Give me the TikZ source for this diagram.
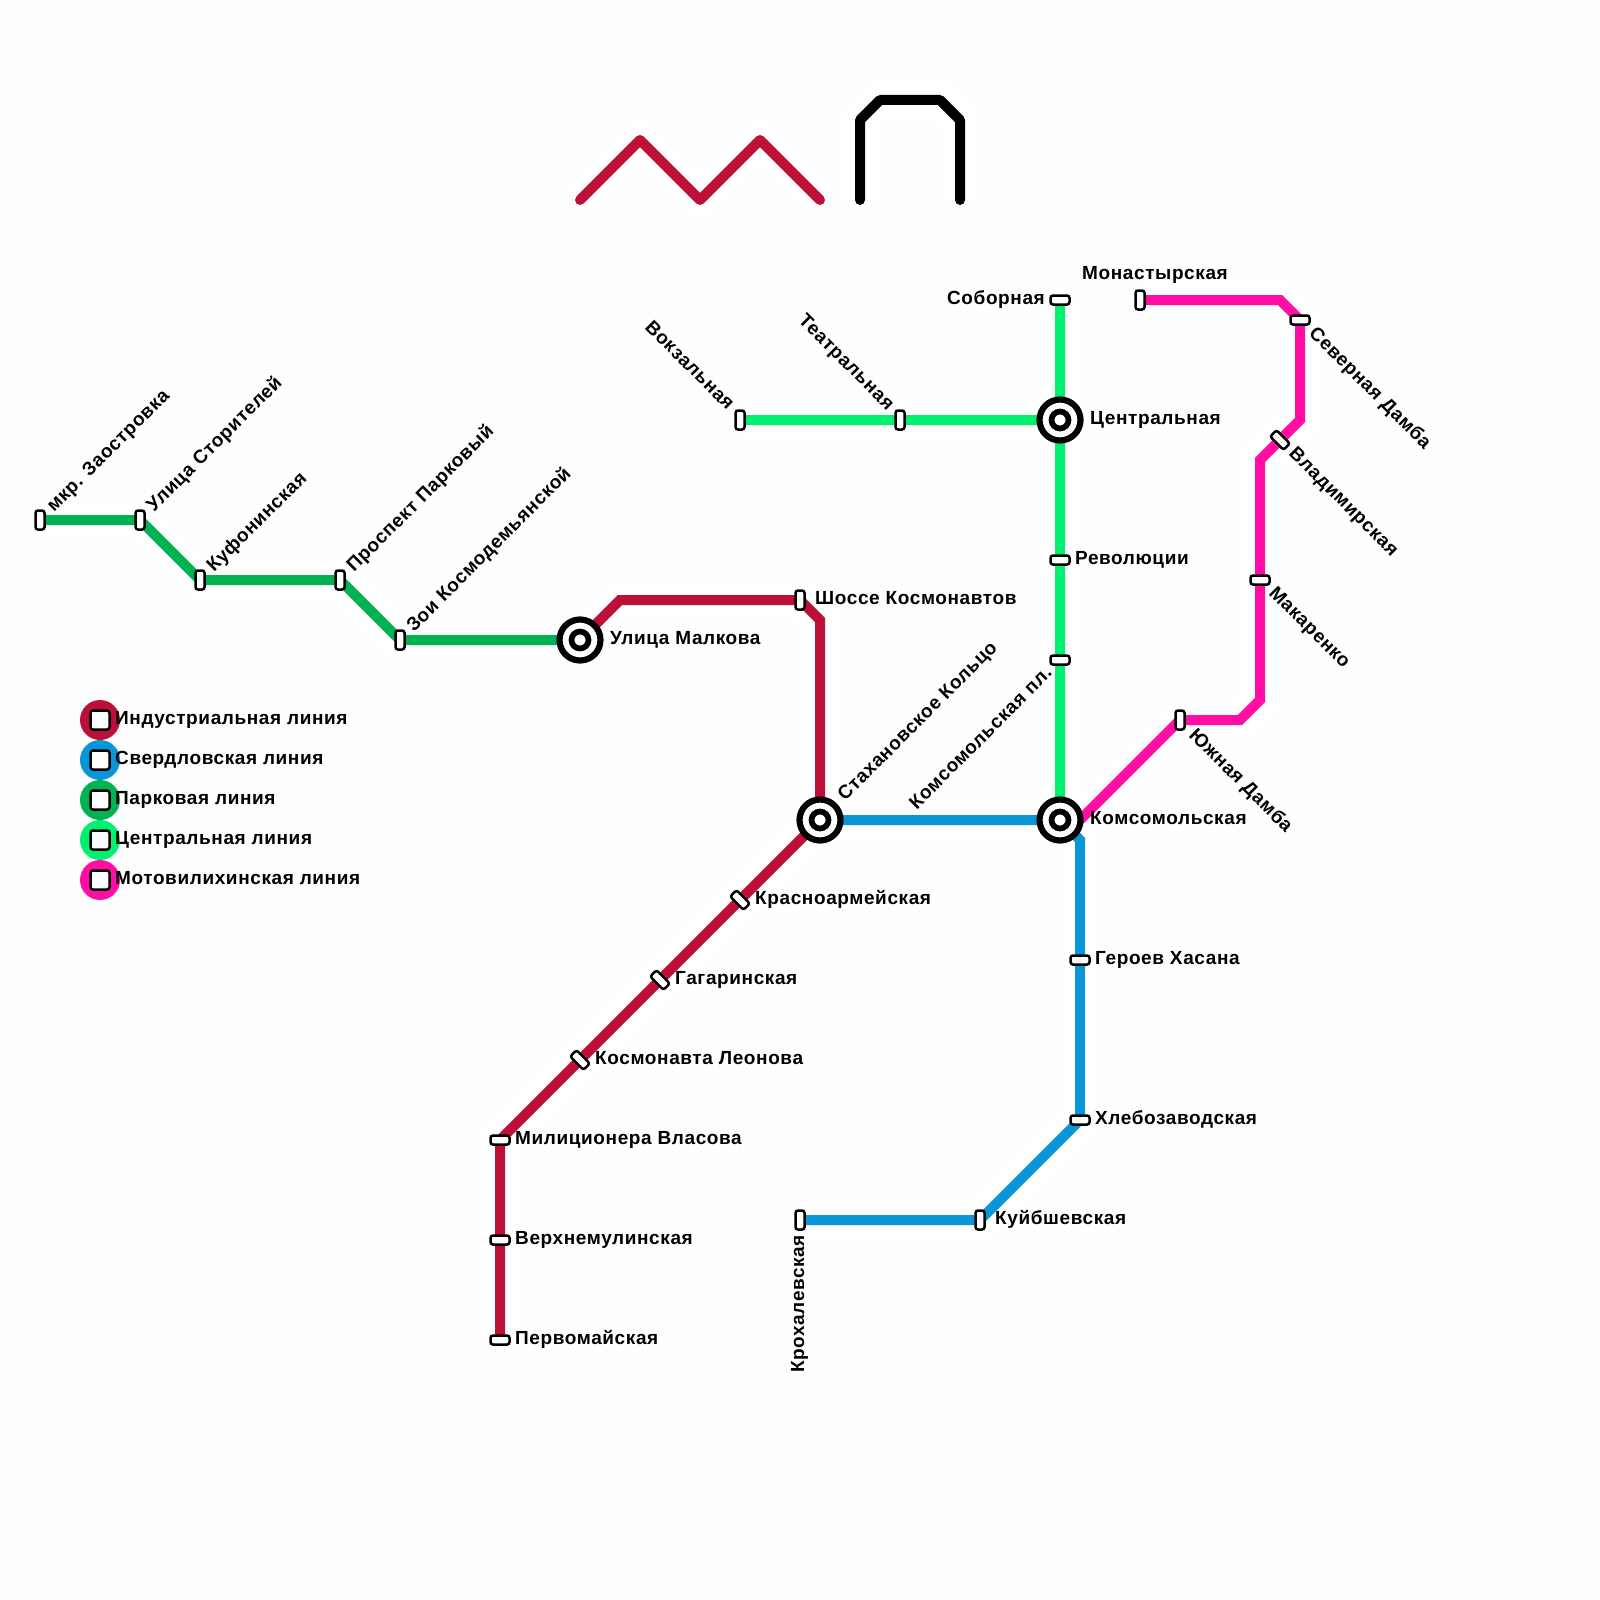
\documentclass[tikz,border=0pt]{standalone}
\usepackage{fontspec}
\setmainfont{Liberation Sans}[LetterSpace=3.2]
\usetikzlibrary{backgrounds}
\definecolor{bgc}{HTML}{FCFFFD}
\definecolor{cred}{HTML}{BD1038}
\definecolor{cblue}{HTML}{0896D7}
\definecolor{cpark}{HTML}{00B251}
\definecolor{ccent}{HTML}{00F170}
\definecolor{cmag}{HTML}{FF0DA5}
\pgfdeclarelayer{halo}
\pgfdeclarelayer{lines}
\pgfsetlayers{halo,lines,main}
\tikzset{
  stH/.style={draw=black,fill=white,line width=2.5pt,rounded corners=2.5pt,inner sep=0pt,minimum width=19pt,minimum height=9pt},
  stV/.style={stH,minimum width=9pt,minimum height=19pt},
  stD/.style={stH,rotate=-45},
  hub/.style={circle,draw=black,fill=white,line width=6.2pt,inner sep=0pt,minimum size=41pt},
  hubin/.style={circle,draw=black,fill=white,line width=5.7pt,inner sep=0pt,minimum size=17pt},
  txt/.style={inner sep=0pt,font=\fontsize{19}{21}\selectfont\bfseries,anchor=base west,text=black},
  txtR/.style={txt,anchor=base east},
  metro/.style={line width=10pt},
  deco/.style={metro,line cap=round,line join=round},
  halopath/.style={line width=36pt,draw=white,line join=round},
  legdot/.style={circle,inner sep=0pt,minimum size=40pt},
  legbox/.style={draw=black,fill=white,line width=2.5pt,rounded corners=2.5pt,inner sep=0pt,minimum size=19pt},
}
\begin{document}
\begin{tikzpicture}[x=1pt,y=-1pt]
\useasboundingbox (0,0) rectangle (1600,1600);
% stations
\node[stV] (zaos) at (40,520) {};
\node[stV] (stor) at (140,520) {};
\node[stV] (kufo) at (200,580) {};
\node[stV] (park) at (340,580) {};
\node[stV] (zoya) at (400,640) {};
\node[hub] (malk) at (580,640) {}; \node[hubin] (malki) at (580,640) {};
\node[stV] (shos) at (800,600) {};
\node[hub] (stah) at (820,820) {}; \node[hubin] (stahi) at (820,820) {};
\node[hub] (koms) at (1060,820) {}; \node[hubin] (komsi) at (1060,820) {};
\node[hub] (cent) at (1060,420) {}; \node[hubin] (centi) at (1060,420) {};
\node[stD] (kras) at (740,900) {};
\node[stD] (gaga) at (660,980) {};
\node[stD] (leon) at (580,1060) {};
\node[stH] (vlas) at (500,1140) {};
\node[stH] (verh) at (500,1240) {};
\node[stH] (perv) at (500,1340) {};
\node[stH] (gero) at (1080,960) {};
\node[stH] (hleb) at (1080,1120) {};
\node[stV] (kuyb) at (980,1220) {};
\node[stV] (kroh) at (800,1220) {};
\node[stV] (vokz) at (740,420) {};
\node[stV] (teat) at (900,420) {};
\node[stH] (sobo) at (1060,300) {};
\node[stH] (revo) at (1060,560) {};
\node[stH] (kpl)  at (1060,660) {};
\node[stV] (mona) at (1140,300) {};
\node[stH] (sevd) at (1300,320) {};
\node[stD] (vlad) at (1280,440) {};
\node[stH] (maka) at (1260,580) {};
\node[stV] (yuzh) at (1180,720) {};
% way points
\coordinate (r1) at (620,600);
\coordinate (r2) at (820,620);
\coordinate (b1) at (1080,840);
\coordinate (m1) at (1280,300);
\coordinate (m2) at (1300,420);
\coordinate (m3) at (1260,460);
\coordinate (m4) at (1260,700);
\coordinate (m5) at (1240,720);
\coordinate (m6) at (1080,820);
\coordinate (z1) at (580,200);
\coordinate (z2) at (640,140);
\coordinate (z3) at (700,200);
\coordinate (z4) at (760,140);
\coordinate (z5) at (820,200);
\coordinate (a1) at (860,200);
\coordinate (a2) at (860,120);
\coordinate (a3) at (880,100);
\coordinate (a4) at (940,100);
\coordinate (a5) at (960,120);
\coordinate (a6) at (960,200);
% background and halo
\begin{pgfonlayer}{halo}
\fill[bgc] (0,0) rectangle (1600,1600);
\draw[halopath] (zaos.center) -- (stor.center) -- (kufo.center) -- (park.center) -- (zoya.center) -- (malk.center);
\draw[halopath] (malk.center) -- (r1) -- (shos.center) -- (r2) -- (stah.center) -- (kras.center) -- (gaga.center) -- (leon.center) -- (vlas.center) -- (verh.center) -- (perv.center);
\draw[halopath] (stah.center) -- (koms.center) -- (b1) -- (gero.center) -- (hleb.center) -- (kuyb.center) -- (kroh.center);
\draw[halopath] (vokz.center) -- (teat.center) -- (cent.center);
\draw[halopath] (sobo.center) -- (cent.center) -- (revo.center) -- (kpl.center) -- (koms.center);
\draw[halopath] (mona.center) -- (m1) -- (sevd.center) -- (m2) -- (vlad.center) -- (m3) -- (maka.center) -- (m4) -- (m5) -- (yuzh.center) -- (m6);
\draw[halopath] (z1) -- (z2) -- (z3) -- (z4) -- (z5);
\draw[halopath] (a1) -- (a2) -- (a3) -- (a4) -- (a5) -- (a6);
\end{pgfonlayer}
% lines
\begin{pgfonlayer}{lines}
\draw[metro,cpark] (zaos.center) -- (stor.center) -- (kufo.center) -- (park.center) -- (zoya.center) -- (malk.center);
\draw[metro,cred] (malk.center) -- (r1) -- (shos.center) -- (r2) -- (stah.center) -- (kras.center) -- (gaga.center) -- (leon.center) -- (vlas.center) -- (verh.center) -- (perv.center);
\draw[metro,cblue] (stah.center) -- (koms.center) -- (b1) -- (gero.center) -- (hleb.center) -- (kuyb.center) -- (kroh.center);
\draw[metro,ccent] (vokz.center) -- (teat.center) -- (cent.center);
\draw[metro,ccent] (sobo.center) -- (cent.center) -- (revo.center) -- (kpl.center) -- (koms.center);
\draw[metro,cmag] (mona.center) -- (m1) -- (sevd.center) -- (m2) -- (vlad.center) -- (m3) -- (maka.center) -- (m4) -- (m5) -- (yuzh.center) -- (m6);
\draw[deco,cred] (z1) -- (z2) -- (z3) -- (z4) -- (z5);
\draw[deco,black] (a1) -- (a2) -- (a3) -- (a4) -- (a5) -- (a6);
\end{pgfonlayer}
% labels
\node[txt,rotate=45] (t1) at (54,513) {мкр. Заостровка};
\node[txt,rotate=45] (t2) at (154,513) {Улица Сторителей};
\node[txt,rotate=45] (t3) at (214,573) {Куфонинская};
\node[txt,rotate=45] (t4) at (354,573) {Проспект Парковый};
\node[txt,rotate=45] (t5) at (414,633) {Зои Космодемьянской};
\node[txt] (t6) at (610,644.5) {Улица Малкова};
\node[txt] (t7) at (815,604.5) {Шоссе Космонавтов};
\node[txt,rotate=45] (t8) at (845,802) {Стахановское Кольцо};
\node[txt] (t9) at (1090,824.5) {Комсомольская};
\node[txt,rotate=45,anchor=base east] (t10) at (1053,674) {Комсомольская пл.};
\node[txt] (t11) at (1075,564.5) {Революции};
\node[txt] (t12) at (1090,424.5) {Центральная};
\node[txtR] (t13) at (1045,304.5) {Соборная};
\node[txt,anchor=base west] (t14) at (1082,279.5) {Монастырская};
\node[txt,rotate=-45] (t15) at (1308,334) {Северная Дамба};
\node[txt,rotate=-45] (t16) at (1288,454) {Владимирская};
\node[txt,rotate=-45] (t17) at (1268,594) {Макаренко};
\node[txt,rotate=-45] (t18) at (1188,736) {Южная Дамба};
\node[txt,rotate=-45,anchor=base east] (t19) at (727,411) {Вокзальная};
\node[txt,rotate=-45,anchor=base east] (t20) at (887,411) {Театральная};
\node[txt] (t21) at (755,904.5) {Красноармейская};
\node[txt] (t22) at (675,984.5) {Гагаринская};
\node[txt] (t23) at (595,1064.5) {Космонавта Леонова};
\node[txt] (t24) at (515,1144.5) {Милиционера Власова};
\node[txt] (t25) at (515,1244.5) {Верхнемулинская};
\node[txt] (t26) at (515,1344.5) {Первомайская};
\node[txt] (t27) at (1095,964.5) {Героев Хасана};
\node[txt] (t28) at (1095,1124.5) {Хлебозаводская};
\node[txt] (t29) at (995,1224.5) {Куйбшевская};
\node[txt,rotate=90,anchor=base east] (t30) at (804,1235) {Крохалевская};
% legend
\foreach \n/\c/\y/\t in {a/cred/720/Индустриальная линия,b/cblue/760/Свердловская линия,c/cpark/800/Парковая линия,d/ccent/840/Центральная линия,e/cmag/880/Мотовилихинская линия}{
  \node[legdot,fill=\c] (ld\n) at (100,\y) {};
  \node[legbox] (lb\n) at (100,\y) {};
  \node[txt] (lt\n) at (115,\y+4.5) {\t};
}
\end{tikzpicture}
\end{document}
